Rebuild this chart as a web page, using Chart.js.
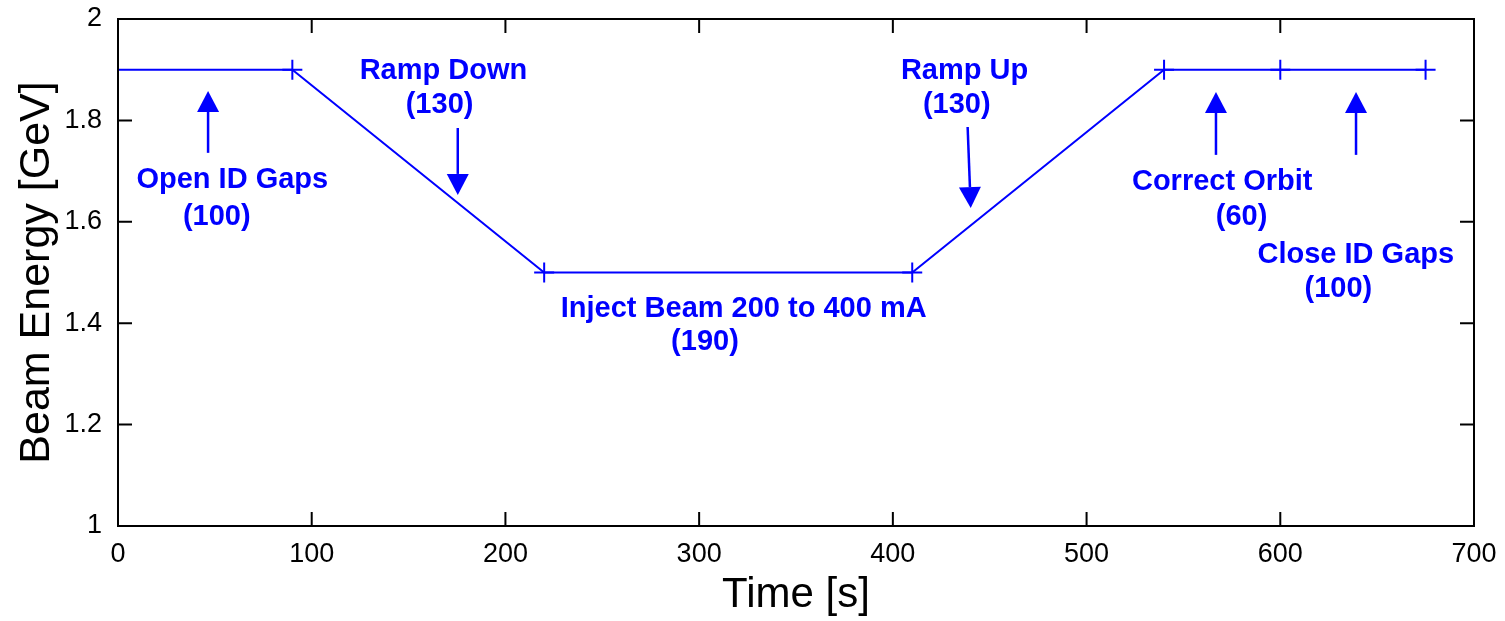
<!DOCTYPE html>
<html>
<head>
<meta charset="utf-8">
<script src="https://cdn.jsdelivr.net/npm/chart.js@4"></script>
<style>
  body { margin: 0; background: #fff; }
  #wrap { width: 1505px; height: 621px; position: relative; }
</style>
</head>
<body>
<div id="wrap"><canvas id="beam-chart"></canvas></div>
<script>
// energy ramp sequence
const timeS = [0, 90, 220, 410, 540, 600, 675];
const energyGeV = [1.9, 1.9, 1.5, 1.5, 1.9, 1.9, 1.9];
const xTicks = [0, 100, 200, 300, 400, 500, 600, 700];
const yTicks = [1, 1.2, 1.4, 1.6, 1.8, 2];

// annotation texts (data coords, x = centre, y = baseline)
const noteText = ["Open ID Gaps", "(100)", "Ramp Down", "(130)", "Ramp Up", "(130)",
                  "Correct Orbit", "(60)", "Close ID Gaps", "(100)",
                  "Inject Beam 200 to 400 mA", "(190)"];
const noteX = [59, 51, 168, 166, 437, 433, 570, 580, 639, 630, 323, 303];
const noteY = [1.667, 1.594, 1.882, 1.815, 1.882, 1.815, 1.663, 1.594, 1.519, 1.452, 1.412, 1.347];

// arrows: tail -> tip
const arrowTailX = [46.5, 175.4, 438.6, 566.8, 639.1];
const arrowTailY = [1.736, 1.785, 1.787, 1.732, 1.732];
const arrowTipX  = [46.5, 175.4, 440.2, 566.8, 639.1];
const arrowTipY  = [1.858, 1.653, 1.627, 1.856, 1.856];

const BLUE = "#0000ff";
const FONT = "'Liberation Sans', Arial, Helvetica, sans-serif";

const annotations = {
    id: 'annotations',
    afterDatasetsDraw(chart) {
        const {ctx, scales: {x, y}} = chart;
        ctx.save();
        ctx.fillStyle = BLUE;
        ctx.strokeStyle = BLUE;
        // arrows
        arrowTipX.forEach((v, i) => {
            const x0 = x.getPixelForValue(arrowTailX[i]), y0 = y.getPixelForValue(arrowTailY[i]);
            const x1 = x.getPixelForValue(v), y1 = y.getPixelForValue(arrowTipY[i]);
            const ang = Math.atan2(y1 - y0, x1 - x0);
            const headLen = 21, headW = 11;
            const bx = x1 - headLen * Math.cos(ang), by = y1 - headLen * Math.sin(ang);
            ctx.lineWidth = 2.5;
            ctx.beginPath();
            ctx.moveTo(x0, y0);
            ctx.lineTo(bx, by);
            ctx.stroke();
            ctx.beginPath();
            ctx.moveTo(x1, y1);
            ctx.lineTo(bx + headW * Math.sin(ang), by - headW * Math.cos(ang));
            ctx.lineTo(bx - headW * Math.sin(ang), by + headW * Math.cos(ang));
            ctx.closePath();
            ctx.fill();
        });
        // texts
        ctx.font = "bold 29px " + FONT;
        ctx.textAlign = 'center';
        ctx.textBaseline = 'alphabetic';
        noteText.forEach((t, i) => {
            ctx.fillText(t, x.getPixelForValue(noteX[i]), y.getPixelForValue(noteY[i]));
        });
        ctx.restore();
    },
    afterDraw(chart) {
        // box on all four sides and inward ticks
        const {ctx, chartArea: {left, top, right, bottom}, scales: {x, y}} = chart;
        ctx.save();
        ctx.strokeStyle = "#000";
        ctx.lineWidth = 2;
        ctx.strokeRect(left, top, right - left, bottom - top);
        const tl = 14;
        ctx.beginPath();
        xTicks.forEach(v => {
            const px = x.getPixelForValue(v);
            ctx.moveTo(px, bottom); ctx.lineTo(px, bottom - tl);
            ctx.moveTo(px, top); ctx.lineTo(px, top + tl);
        });
        yTicks.forEach(v => {
            const py = y.getPixelForValue(v);
            ctx.moveTo(left, py); ctx.lineTo(left + tl, py);
            ctx.moveTo(right, py); ctx.lineTo(right - tl, py);
        });
        ctx.stroke();
        ctx.restore();
    }
};

new Chart(document.getElementById("beam-chart"), {
    type: 'line',
    data: {
        datasets: [{
            data: timeS.map((t, i) => ({x: t, y: energyGeV[i]})),
            borderColor: BLUE,
            borderWidth: 2,
            tension: 0,
            fill: false,
            pointStyle: 'cross',
            pointRadius: timeS.map((t, i) => i === 0 ? 0 : 10),
            pointBorderWidth: 2,
            pointBorderColor: BLUE,
            clip: false
        }]
    },
    options: {
        responsive: true,
        maintainAspectRatio: false,
        animation: false,
        layout: { padding: { top: 19, right: 31, left: 0, bottom: 0 } },
        plugins: {
            legend: { display: false },
            tooltip: { enabled: false }
        },
        scales: {
            x: {
                type: 'linear',
                min: 0,
                max: 700,
                afterFit(scale) {
                    scale.height = 95;
                    scale.paddingLeft = 0; scale.paddingRight = 0;
                },
                afterBuildTicks(scale) { scale.ticks = xTicks.map(v => ({value: v})); },
                grid: { display: false },
                border: { display: true, color: "#000", width: 2 },
                ticks: { color: "#000", padding: 4, font: { family: FONT, size: 27 } },
                title: {
                    display: true,
                    text: "Time [s]",
                    color: "#000",
                    font: { family: FONT, size: 42 },
                    padding: { top: 0, bottom: 0 }
                }
            },
            y: {
                min: 1,
                max: 2,
                afterFit(scale) {
                    scale.width = 118;
                    scale.paddingTop = 0; scale.paddingBottom = 0;
                },
                afterBuildTicks(scale) { scale.ticks = yTicks.map(v => ({value: v})); },
                grid: { display: false },
                border: { display: true, color: "#000", width: 2 },
                ticks: {
                    color: "#000",
                    padding: 8,
                    font: { family: FONT, size: 27 },
                    callback: v => String(Math.round(v * 10) / 10)
                },
                title: {
                    display: true,
                    text: "Beam Energy [GeV]",
                    color: "#000",
                    font: { family: FONT, size: 43 },
                    padding: { top: 11, bottom: 0 }
                }
            }
        }
    },
    plugins: [annotations]
});
</script>
</body>
</html>
